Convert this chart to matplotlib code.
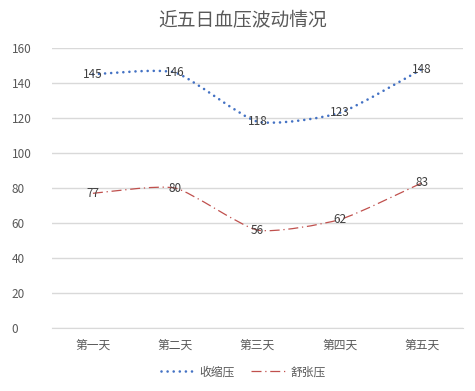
import matplotlib
matplotlib.use("Agg")
import matplotlib.pyplot as plt
from matplotlib.path import Path
from matplotlib.patches import PathPatch
from matplotlib.lines import Line2D

plt.rcParams["font.family"] = ["Noto Sans CJK SC", "DejaVu Sans"]

# -----------------------------
# Data
# -----------------------------
days = ["第一天", "第二天", "第三天", "第四天", "第五天"]
systolic = [145, 146, 118, 123, 148]
diastolic = [77, 80, 56, 62, 83]

BLUE = "#4472C4"
RED = "#C0504D"
GRID = "#D9D9D9"
TEXT = "#595959"

TENSION = 0.1  # how far bezier handles reach toward neighbours


def smooth_path(xs, ys):
    # Excel-style smoothed line: bezier segments through the data points
    pts = list(zip(xs, ys))
    n = len(pts)
    verts = [pts[0]]
    codes = [Path.MOVETO]
    for i in range(n - 1):
        p0 = pts[max(i - 1, 0)]
        p1 = pts[i]
        p2 = pts[i + 1]
        p3 = pts[min(i + 2, n - 1)]
        c1 = (p1[0] + (p2[0] - p0[0]) * TENSION, p1[1] + (p2[1] - p0[1]) * TENSION)
        c2 = (p2[0] - (p3[0] - p1[0]) * TENSION, p2[1] - (p3[1] - p1[1]) * TENSION)
        verts += [c1, c2, p2]
        codes += [Path.CURVE4] * 3
    return Path(verts, codes)


fig = plt.figure(figsize=(4.75, 3.91), dpi=100)
ax = fig.add_axes([0.109, 0.161, 0.866, 0.716])

x = list(range(len(days)))

series = [
    (systolic, BLUE, (0, (0.01, 2.3)), 1.9, "round", "收缩压"),
    (diastolic, RED, (0, (8, 3, 1, 3)), 0.9, "butt", "舒张压"),
]

handles = []
for vals, color, ls, lw, cap, name in series:
    patch = PathPatch(smooth_path(x, vals), facecolor="none", edgecolor=color,
                      linestyle=ls, linewidth=lw, capstyle=cap)
    ax.add_patch(patch)
    for xi, v in zip(x, vals):
        ax.text(xi, v, str(v), ha="center", va="center", fontsize=8.5, color="#404040")
    handles.append(Line2D([], [], color=color, linestyle=ls, linewidth=lw,
                          dash_capstyle=cap, label=name))

ax.set_xlim(-0.5, len(days) - 0.5)
ax.set_ylim(0, 160)
ax.set_yticks(range(0, 161, 20))
ax.set_xticks(x)
ax.set_xticklabels(days)
ax.yaxis.grid(True, color=GRID, linewidth=1)
ax.set_axisbelow(True)
for s in ["top", "right", "left"]:
    ax.spines[s].set_visible(False)
ax.spines["bottom"].set_color(GRID)
ax.tick_params(axis="both", length=0, colors=TEXT, labelsize=8.5)
ax.tick_params(axis="y", pad=29)
for lab in ax.get_yticklabels():
    lab.set_horizontalalignment("left")
ax.tick_params(axis="x", pad=8)

fig.suptitle("近五日血压波动情况", x=0.51, y=0.975, fontsize=13.5, color=TEXT)

fig.legend(handles=handles, loc="lower center", ncol=2, frameon=False,
           bbox_to_anchor=(0.512, 0.005), fontsize=8.5, labelcolor=TEXT,
           handlelength=2.8, handletextpad=0.5, columnspacing=1.4)

fig.savefig("out.png", dpi=100)
